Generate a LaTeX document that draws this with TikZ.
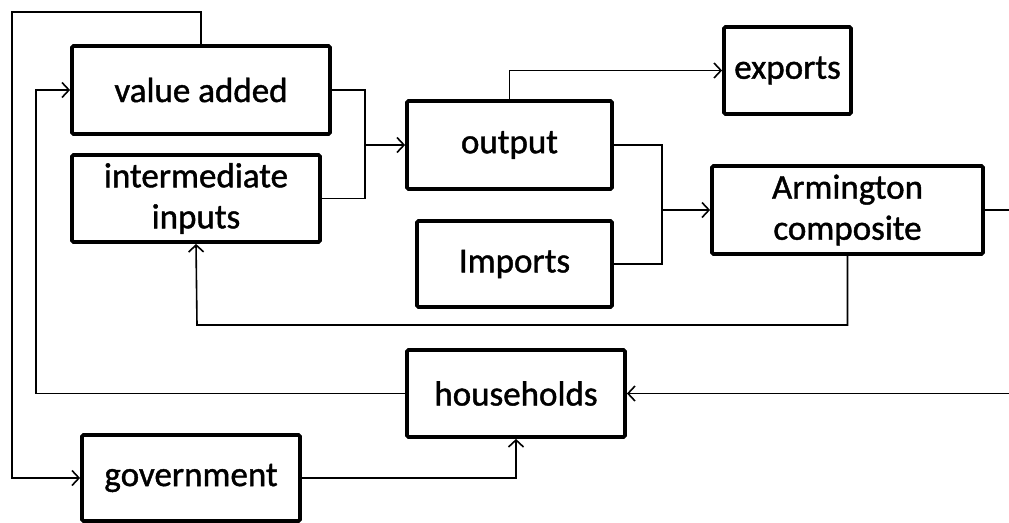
\documentclass[tikz,border=0pt]{standalone}
\usepackage{fontspec}
\setmainfont{Carlito}
\newfontfamily\boxfont{Carlito}[FakeBold=1.2]
\usetikzlibrary{arrows.meta}

\tikzset{
  box/.style={draw, line width=3.8pt, rounded corners=1.5pt, inner sep=0pt,
    align=center, font=\boxfont\fontsize{35}{41}\selectfont},
  link/.style={line width=1.6pt},
  arr/.style={link, -{Straight Barb[length=7pt,width=15pt,line width=1.6pt]}}
}

\begin{document}
\begin{tikzpicture}[x=1pt, y=-1pt]
  \clip (0,0) rectangle (1009,522);
  \fill[white] (0,0) rectangle (1009,522);

  % blocks of the model
  \node[box, minimum width=258pt, minimum height=88pt] (va)  at (201,90)    {value added};
  \node[box, minimum width=248pt, minimum height=87pt] (ii)  at (196,198.5) {intermediate\\inputs};
  \node[box, minimum width=205pt, minimum height=88pt] (out) at (509.5,145) {output};
  \node[box, minimum width=127pt, minimum height=87pt] (ex)  at (787.5,70.5) {exports};
  \node[box, minimum width=195pt, minimum height=86pt] (im)  at (514.5,264) {Imports};
  \node[box, minimum width=271pt, minimum height=88pt] (arm) at (847.5,210) {Armington\\composite};
  \node[box, minimum width=218pt, minimum height=87pt] (hh)  at (516,393.5) {households};
  \node[box, minimum width=218pt, minimum height=86pt] (gov) at (191,478)   {government};

  % routing points
  \coordinate (tl) at (12,12);
  \coordinate (lx) at (36,90);
  \coordinate (j1) at (365,145);
  \coordinate (j2) at (662,210);
  \coordinate (r1) at (1030,210);
  \coordinate (bl) at (197,325);

  % flows
  \draw[arr] (va.north) |- (tl) |- (gov.west);
  \draw[arr] (hh.west) -| (lx) -- (va.west);
  \draw[arr] (va.east) -| (j1) -- (out.west);
  \draw[link] (ii.east) -| (j1);
  \draw[arr] (out.north) |- (ex.west);
  \draw[arr] (out.east) -| (j2) -- (arm.west);
  \draw[link] (im.east) -| (j2);
  \draw[arr] (arm.east) -- (r1) |- (hh.east);
  \draw[arr] (arm.south) |- (bl) -- (ii.south);
  \draw[arr] (gov.east) -| (hh.south);
\end{tikzpicture}
\end{document}
